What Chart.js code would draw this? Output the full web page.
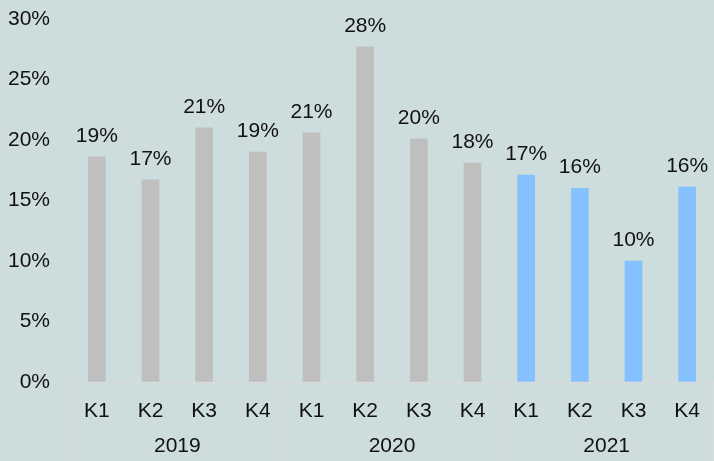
<!DOCTYPE html>
<html>
<head>
<meta charset="utf-8">
<script src="https://cdn.jsdelivr.net/npm/chart.js@4"></script>
<style>
  html, body { margin: 0; padding: 0; background: #cddcdc; }
  #wrap { width: 714px; height: 461px; position: relative; }
</style>
</head>
<body>
<div id="wrap"><canvas id="grafic"></canvas></div>
<script>
// quarters and years for the two-level category axis
const QUARTERS = ['K1', 'K2', 'K3', 'K4', 'K1', 'K2', 'K3', 'K4', 'K1', 'K2', 'K3', 'K4'];
const YEARS = ['2019', '2020', '2021'];
// share per quarter, in percent
const VALUES = [18.6, 16.7, 21.0, 19.0, 20.6, 27.7, 20.1, 18.1, 17.1, 16.0, 10.0, 16.1];
const Y_TICKS = [0, 5, 10, 15, 20, 25, 30];

const FONT = 'Arial, "Liberation Sans", sans-serif';
const GREY = '#bfbfbf';
const BLUE = '#85c1ff';
const LINE = '#d9dcdc';

// value labels above each bar
const etiquetes = {
  id: 'etiquetes',
  afterDatasetsDraw(chart) {
    const ctx = chart.ctx;
    const meta = chart.getDatasetMeta(0);
    ctx.save();
    ctx.font = '21px ' + FONT;
    ctx.fillStyle = '#111';
    ctx.textAlign = 'center';
    ctx.textBaseline = 'alphabetic';
    meta.data.forEach((bar, i) => {
      ctx.fillText(Math.round(VALUES[i]) + '%', bar.x, bar.y - 15);
    });
    ctx.restore();
  }
};

// axis line, year separators and year labels
const eixAnys = {
  id: 'eixAnys',
  afterDraw(chart) {
    const ctx = chart.ctx;
    const x = chart.scales.x;
    const area = chart.chartArea;
    const step = x.getPixelForValue(1) - x.getPixelForValue(0);
    const perYear = QUARTERS.length / YEARS.length;
    ctx.save();
    ctx.strokeStyle = LINE;
    ctx.lineWidth = 1.5;
    ctx.beginPath();
    ctx.moveTo(area.left, area.bottom + 0.5);
    ctx.lineTo(chart.width, area.bottom + 0.5);
    for (let k = 0; k <= YEARS.length; k++) {
      const px = x.getPixelForValue(k * perYear) - step / 2;
      ctx.moveTo(px, area.bottom);
      ctx.lineTo(px, chart.height);
    }
    ctx.stroke();
    ctx.font = '21px ' + FONT;
    ctx.fillStyle = '#111';
    ctx.textAlign = 'center';
    ctx.textBaseline = 'middle';
    YEARS.forEach((y, k) => {
      const a = x.getPixelForValue(k * perYear) - step / 2;
      const b = x.getPixelForValue((k + 1) * perYear - 1) + step / 2;
      ctx.fillText(y, (a + b) / 2, 446);
    });
    ctx.restore();
  }
};

new Chart(document.getElementById('grafic'), {
  type: 'bar',
  data: {
    labels: QUARTERS,
    datasets: [{
      data: VALUES,
      backgroundColor: VALUES.map((v, i) => i >= 8 ? BLUE : GREY),
      barThickness: 17
    }]
  },
  options: {
    responsive: true,
    maintainAspectRatio: false,
    animation: false,
    layout: { padding: { top: 0, right: -4, left: 0, bottom: 0 } },
    plugins: { legend: { display: false }, tooltip: { enabled: false } },
    scales: {
      x: {
        grid: { display: false },
        border: { display: false },
        ticks: { color: '#111', font: { family: FONT, size: 21 }, padding: 9, maxRotation: 0 },
        afterFit(s) { s.height = 79; }
      },
      y: {
        min: 0,
        max: 30,
        grid: { display: false },
        border: { display: false },
        afterBuildTicks(s) { s.ticks = Y_TICKS.map(v => ({ value: v })); },
        ticks: {
          color: '#111',
          font: { family: FONT, size: 21 },
          padding: 12,
          callback: v => v + '%'
        },
        afterFit(s) { s.width = 70; s.paddingTop = 19; s.paddingBottom = 0; }
      }
    }
  },
  plugins: [etiquetes, eixAnys]
});
</script>
</body>
</html>
